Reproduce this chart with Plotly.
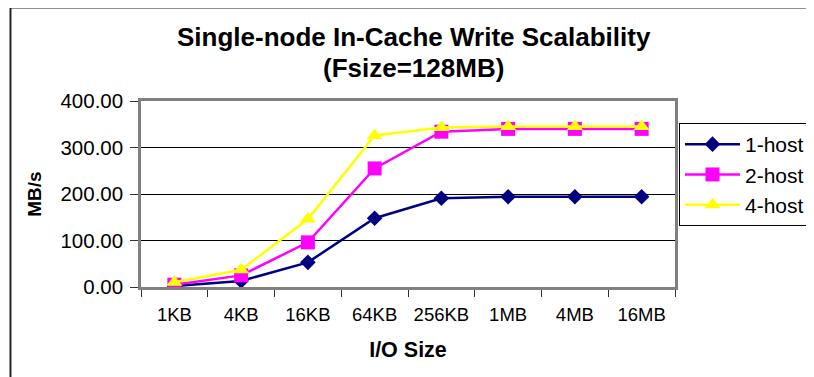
import plotly.graph_objects as go

# ── Data ─────────────────────────────────────────────────────────────────────
io_sizes = ["1KB", "4KB", "16KB", "64KB", "256KB", "1MB", "4MB", "16MB"]
host1 = [2, 13, 53, 148, 191, 194, 194, 194]
host2 = [5, 25, 96, 255, 334, 340, 340, 340]
host4 = [10, 37, 146, 326, 343, 345, 345, 345]

FONT = "Arial, Liberation Sans, sans-serif"

# page body has an 8px margin, so the figure is offset by 8px; plot area
# should land on x 141..677, y 101..287 of the page
PX_L, PX_R, PX_T, PX_B = 141, 677, 101, 287
W_PA, H_PA = PX_R - PX_L, PX_B - PX_T


def px_x(px):
    return (px - PX_L) / W_PA


def px_y(py):
    return (PX_B - py) / H_PA


fig = go.Figure()
fig.add_trace(go.Scatter(
    x=io_sizes, y=host1, name="1-host", mode="lines+markers", legendgroup="a",
    line=dict(color="#000080", width=2.5),
    marker=dict(symbol="diamond", size=12, color="#000080"),
))
fig.add_trace(go.Scatter(
    x=io_sizes, y=host2, name="2-host", mode="lines+markers", legendgroup="b",
    line=dict(color="#FF00FF", width=2.5),
    marker=dict(symbol="square", size=14, color="#FF00FF"),
))
fig.add_trace(go.Scatter(
    x=io_sizes, y=host4, name="4-host", mode="lines+markers", legendgroup="c",
    line=dict(color="#FFFF00", width=2.5),
    marker=dict(symbol="triangle-up", size=14, color="#FFFF00"),
))

fig.update_layout(
    width=814, height=377,
    paper_bgcolor="white", plot_bgcolor="white",
    font=dict(family=FONT, color="black"),
    margin=dict(l=PX_L - 8, r=814 - PX_R + 8, t=PX_T - 8, b=377 - PX_B + 8),
    legend=dict(
        x=px_x(681), y=px_y(123), xanchor="left", yanchor="top",
        bordercolor="black", borderwidth=1, bgcolor="white",
        font=dict(size=21, family=FONT), itemwidth=55,
        traceorder="grouped", tracegroupgap=0,
    ),
    shapes=[dict(
        type="rect", xref="paper", yref="paper",
        x0=px_x(10), x1=px_x(840), y0=px_y(400), y1=px_y(7.5),
        line=dict(color="#222222", width=2), layer="below",
    )],
    annotations=[
        dict(text="<b>Single-node In-Cache Write Scalability</b>",
             xref="paper", yref="paper", x=px_x(415), y=px_y(37),
             xanchor="center", yanchor="middle", showarrow=False,
             font=dict(size=26, family=FONT, color="black")),
        dict(text="<b>(Fsize=128MB)</b>",
             xref="paper", yref="paper", x=px_x(415), y=px_y(68.5),
             xanchor="center", yanchor="middle", showarrow=False,
             font=dict(size=26, family=FONT, color="black")),
    ],
)

fig.update_xaxes(
    type="category", range=[-0.5, 7.5], tickson="boundaries",
    ticks="outside", ticklen=7, tickcolor="#333333", tickwidth=1,
    showline=True, linecolor="#808080", linewidth=2.5, mirror=True,
    showgrid=False, tickfont=dict(size=18.5), ticklabelstandoff=9,
    title=dict(text="<b>I/O Size</b>", font=dict(size=21.5), standoff=18),
)
fig.update_yaxes(
    range=[0, 400], dtick=100, tickformat=".2f",
    ticks="outside", ticklen=8, tickcolor="#333333", tickwidth=1,
    showline=True, linecolor="#808080", linewidth=2.5, mirror=True,
    showgrid=True, gridcolor="black", gridwidth=1, zeroline=False,
    tickfont=dict(size=20.5), ticklabelstandoff=3,
    title=dict(text="<b>MB/s</b>", font=dict(size=19), standoff=14),
)

fig.write_html("out.html")
